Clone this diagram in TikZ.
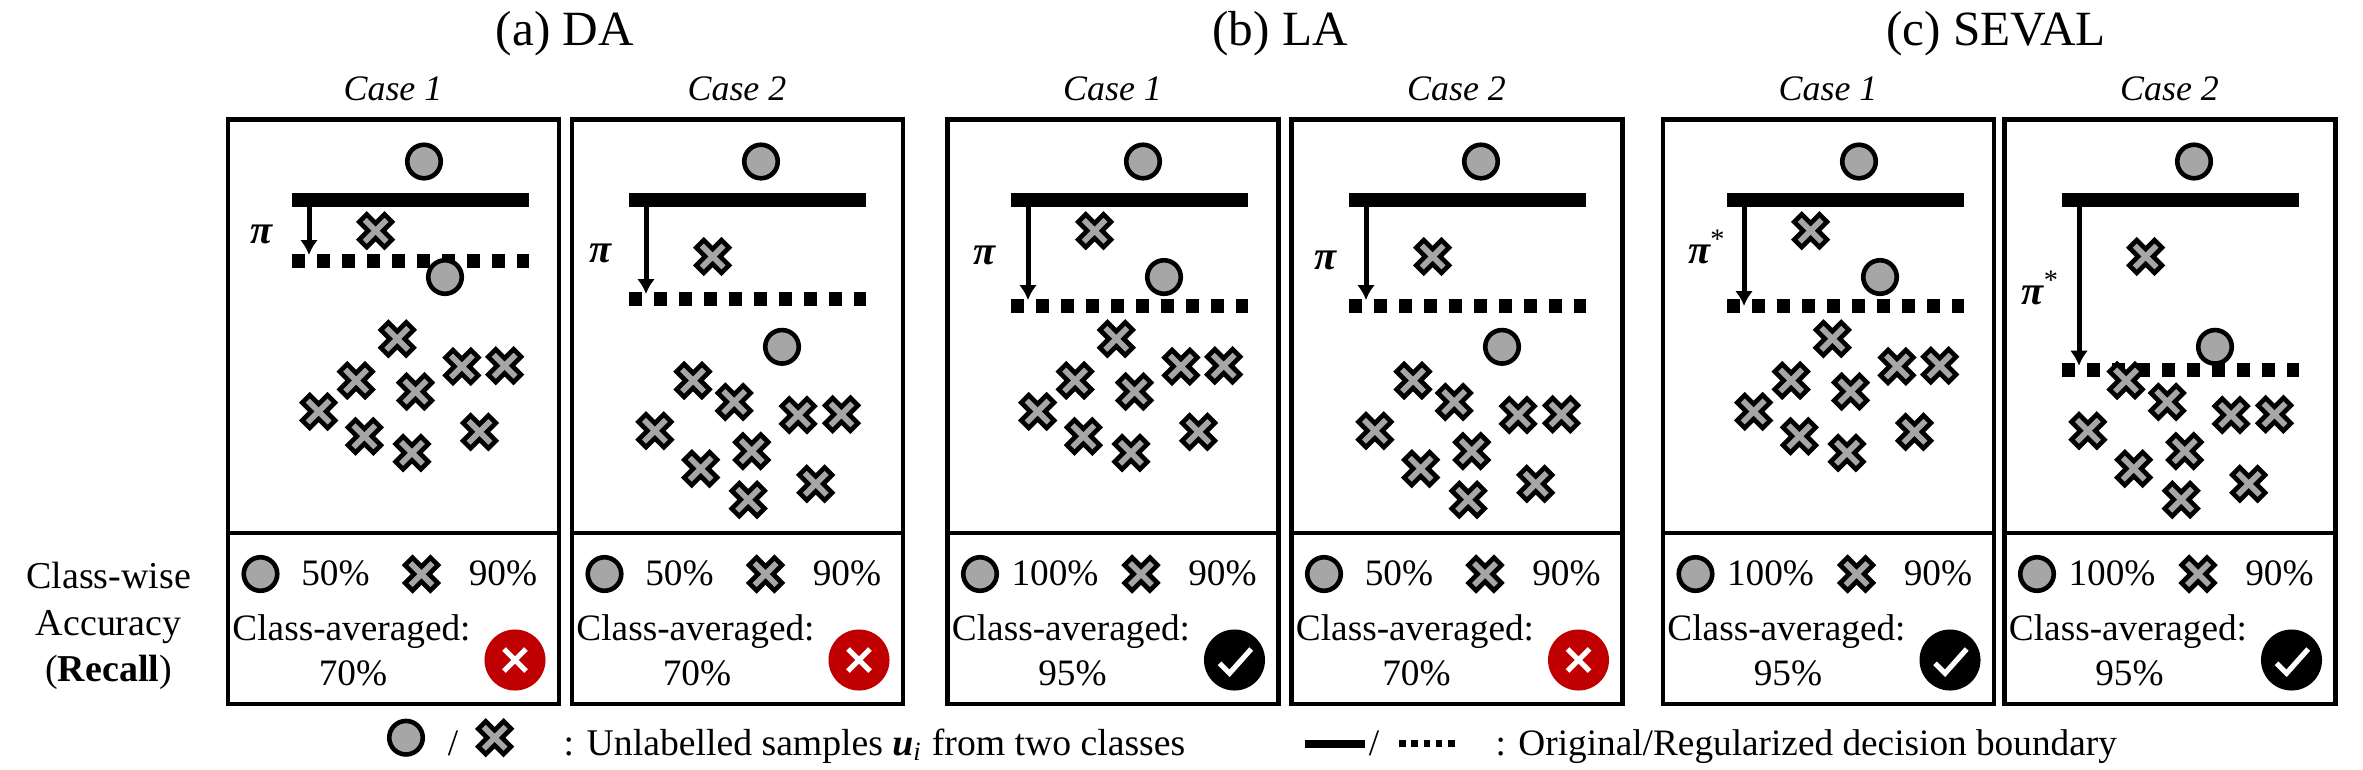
\documentclass[tikz,border=0pt]{standalone}
\usepackage{fontspec}
\setmainfont{Liberation Serif}
\usetikzlibrary{arrows.meta}

\definecolor{samplegray}{HTML}{A6A6A6}
\definecolor{badred}{HTML}{C00000}

\tikzset{
  panelline/.style={line width=0.043cm},
  sample/.style={circle, draw=black, fill=samplegray, line width=0.046cm, minimum size=0.335cm, inner sep=0},
  badge/.style={circle, minimum size=0.61cm, inner sep=0},
  glyph/.style={white, line width=0.052cm},
  solidbound/.style={line width=0.14cm},
  dashbound/.style={line width=0.14cm, dash pattern=on 0.13cm off 0.12cm},
  piarrow/.style={line width=0.05cm, -{Latex[length=0.15cm,width=0.18cm]}},
  lbl/.style={inner sep=0, anchor=base, font=\fontsize{10.6pt}{12pt}\selectfont},
  rowlbl/.style={lbl, font=\fontsize{10.8pt}{12pt}\selectfont},
  pilabel/.style={inner sep=0, anchor=base west, font=\fontsize{11.5pt}{12pt}\selectfont},
  pics/xmark/.style={code={
    \draw[draw=black, fill=samplegray, line width=0.046cm]
      (7.5,0) -- (16.4,8.9) -- (8.9,16.4) -- (0,7.5) -- (-8.9,16.4) -- (-16.4,8.9)
      -- (-7.5,0) -- (-16.4,-8.9) -- (-8.9,-16.4) -- (0,-7.5) -- (8.9,-16.4) -- (16.4,-8.9) -- cycle;
  }},
}

\def\pibold{{\bfseries\itshape π}}
\def\pistar{{\bfseries\itshape π}\textsuperscript{*}}
\def\crossesA{83.6/230.7,105.3/338.8,64.2/380.5,123.5/391.5,169.9/366.4,212.7/365.7,26.7/411.5,72.4/436.3,120/452.8,187.5/431.8}
\def\crossesB{83.6/256.5,64/380.5,105.2/401.9,169.1/415,212.5/414.3,25.9/430.8,122.8/451.1,71.7/468.7,186.7/483.8,119.2/499.7}

\begin{document}
\begin{tikzpicture}[x=0.01cm, y=-0.01cm]
  \useasboundingbox (0,0) rectangle (2363,769);

  % titles
  \node[lbl, font=\fontsize{14pt}{16pt}\selectfont] (titlea) at (565,45) {(a) DA};
  \node[lbl, font=\fontsize{14pt}{16pt}\selectfont] (titleb) at (1280,45) {(b) LA};
  \node[lbl, font=\fontsize{14pt}{16pt}\selectfont] (titlec) at (1996,45) {(c) SEVAL};

  % one panel per case
  \foreach \pid/\pl/\bx/\dy/\tip/\pix/\piy/\pisym/\pct/\avg/\ok/\clu/\cs in {
    a1/228/292/261/255/-42.6/243.8/\pibold/50/70/0/1/1,
    a2/572/629/299/294/-40.4/262.7/\pibold/50/70/0/2/2,
    b1/947.5/1011/305.8/300/-38.2/264.5/\pibold/100/95/1/1/1,
    b2/1291.5/1349/305.8/300/-35.5/269.3/\pibold/50/70/0/2/2,
    c1/1663/1727/305.8/306/-39.5/263.4/\pistar/100/95/1/1/1,
    c2/2004.5/2062/369.5/365.7/-41/304.4/\pistar/100/95/1/2/2}{

    \node[lbl, font=\fontsize{10.2pt}{12pt}\selectfont\itshape] (\pid-case) at (\pl+165,100.5) {Case \cs};
    \draw[panelline] (\pl,119.5) rectangle (\pl+331,704);
    \draw[panelline] (\pl,533) -- (\pl+331,533);

    \coordinate (\pid-sl) at (\bx,200);
    \coordinate (\pid-sr) at (\bx+237,200);
    \coordinate (\pid-dl) at (\bx,\dy);
    \coordinate (\pid-dr) at (\bx+237,\dy);
    \coordinate (\pid-from) at (\bx+17,200);
    \coordinate (\pid-to) at (\bx+17,\tip);
    \draw[solidbound] (\pid-sl) -- (\pid-sr);
    \draw[dashbound] (\pid-dl) -- (\pid-dr);
    \draw[piarrow] (\pid-from) -- (\pid-to);
    \node[pilabel] (\pid-pi) at (\bx+\pix,\piy) {\pisym};

    \ifnum\clu=1
      \let\clist\crossesA
      \def\cylow{277}
    \else
      \let\clist\crossesB
      \def\cylow{346.8}
    \fi
    \node[sample] (\pid-top) at (\bx+132,161.5) {};
    \node[sample] (\pid-low) at (\bx+153,\cylow) {};
    \foreach \cx/\cy in \clist{
      \pic at (\bx+\cx,\cy) {xmark};
    }

    % accuracy part
    \node[sample] (\pid-cc) at (\pl+32.5,574) {};
    \node[lbl] (\pid-cp) at (\pl+107.5,585.7) {\pct\%};
    \pic at (\pl+193.5,574) {xmark};
    \node[lbl] (\pid-xp) at (\pl+275,585.7) {90\%};
    \node[lbl] (\pid-ca) at (\pl+123.5,640) {Class-averaged:};
    \node[lbl] (\pid-av) at (\pl+125,685.7) {\avg\%};
    \ifnum\ok=1
      \node[badge, fill=black] (\pid-mark) at (\pl+287,660) {};
      \draw[glyph] (\pl+272,663.3) -- (\pl+282,673.3) -- (\pl+303.7,649);
    \else
      \node[badge, fill=badred] (\pid-mark) at (\pl+287,660) {};
      \draw[glyph] (\pl+276,649) -- (\pl+298,671);
      \draw[glyph] (\pl+298,649) -- (\pl+276,671);
    \fi
  }

  % row label
  \node[rowlbl] (rowa) at (108.6,588) {Class-wise};
  \node[rowlbl] (rowb) at (108.6,635) {Accuracy};
  \node[rowlbl] (rowc) at (108.6,681) {(\textbf{Recall})};

  % legend
  \node[sample] (legc) at (406,737.7) {};
  \node[lbl] (legs) at (453,755) {/};
  \pic at (494.7,737.7) {xmark};
  \node[lbl, anchor=base west, font=\fontsize{10.72pt}{12pt}\selectfont] (legt) at (563,755) {: Unlabelled samples {\bfseries\itshape u}\textsubscript{\itshape i} from two classes};
  \coordinate (lsl) at (1305,744);
  \coordinate (lsr) at (1365,744);
  \coordinate (ldl) at (1399,743);
  \coordinate (ldr) at (1456,743);
  \draw[line width=0.075cm] (lsl) -- (lsr);
  \node[lbl] (legd) at (1374,755) {/};
  \draw[line width=0.07cm, dash pattern=on 0.065cm off 0.0575cm] (ldl) -- (ldr);
  \node[lbl, anchor=base west] (legb) at (1495,755) {: Original/Regularized decision boundary};
\end{tikzpicture}
\end{document}
